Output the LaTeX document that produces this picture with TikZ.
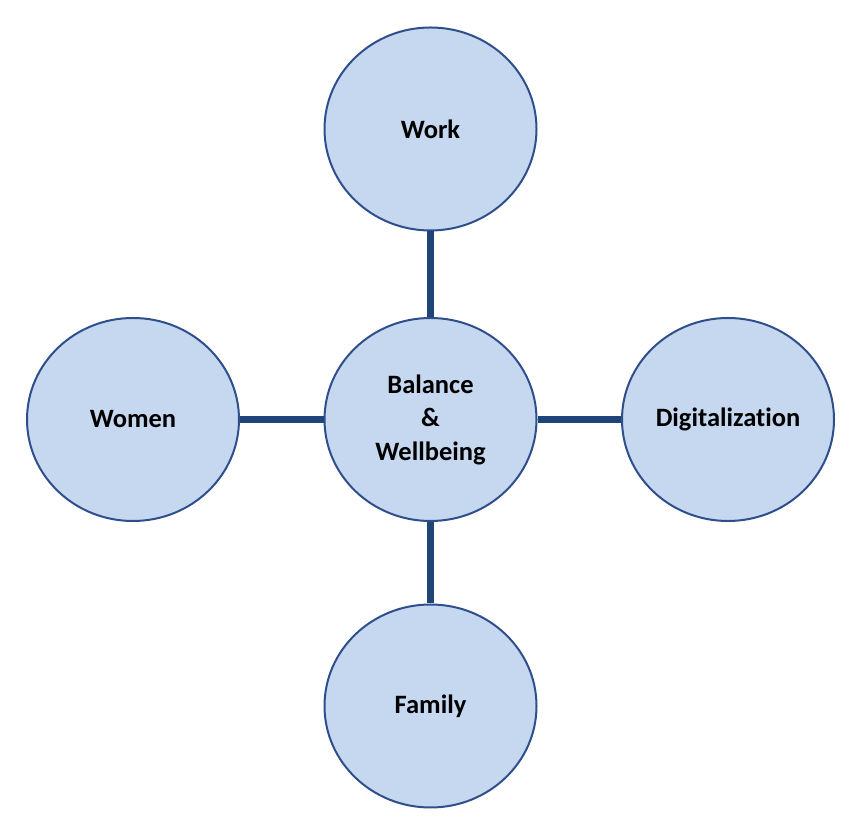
\documentclass[tikz,border=0pt]{standalone}
\usepackage{fontspec}
\setmainfont[Ligatures=NoCommon]{Carlito}
\usetikzlibrary{shapes.geometric}
\definecolor{bubblefill}{HTML}{C5D8EF}
\definecolor{bubbleline}{HTML}{2E4F8C}
\definecolor{linkline}{HTML}{1F4478}
\begin{document}
\begin{tikzpicture}[
    x=1pt, y=1pt,
    bubble/.style={ellipse, draw=bubbleline, fill=bubblefill, line width=2pt, minimum width=212pt, minimum height=203pt, inner sep=0pt, align=center, font=\fontsize{26.5}{33.5}\selectfont\bfseries},
    link/.style={draw=linkline, line width=6.5pt}
  ]
    \useasboundingbox (0,0) rectangle (864,837);

    % Bubbles
    \node[bubble] (hub) at (430.5, 417.5) {Balance\\\&\\Wellbeing};
    \node[bubble] (work) at (430.5, 708) {Work};
    \node[bubble] (family) at (430.5, 131) {Family};
    \node[bubble] (women) at (133, 417.5) {Women};
    \node[bubble] (digital) at (728, 417.5) {Digitalization};

    % Links
    \draw[link] (hub) -- (work);
    \draw[link] (hub) -- (family);
    \draw[link] (hub) -- (women);
    \draw[link] (hub) -- (digital);
  \end{tikzpicture}
\end{document}
